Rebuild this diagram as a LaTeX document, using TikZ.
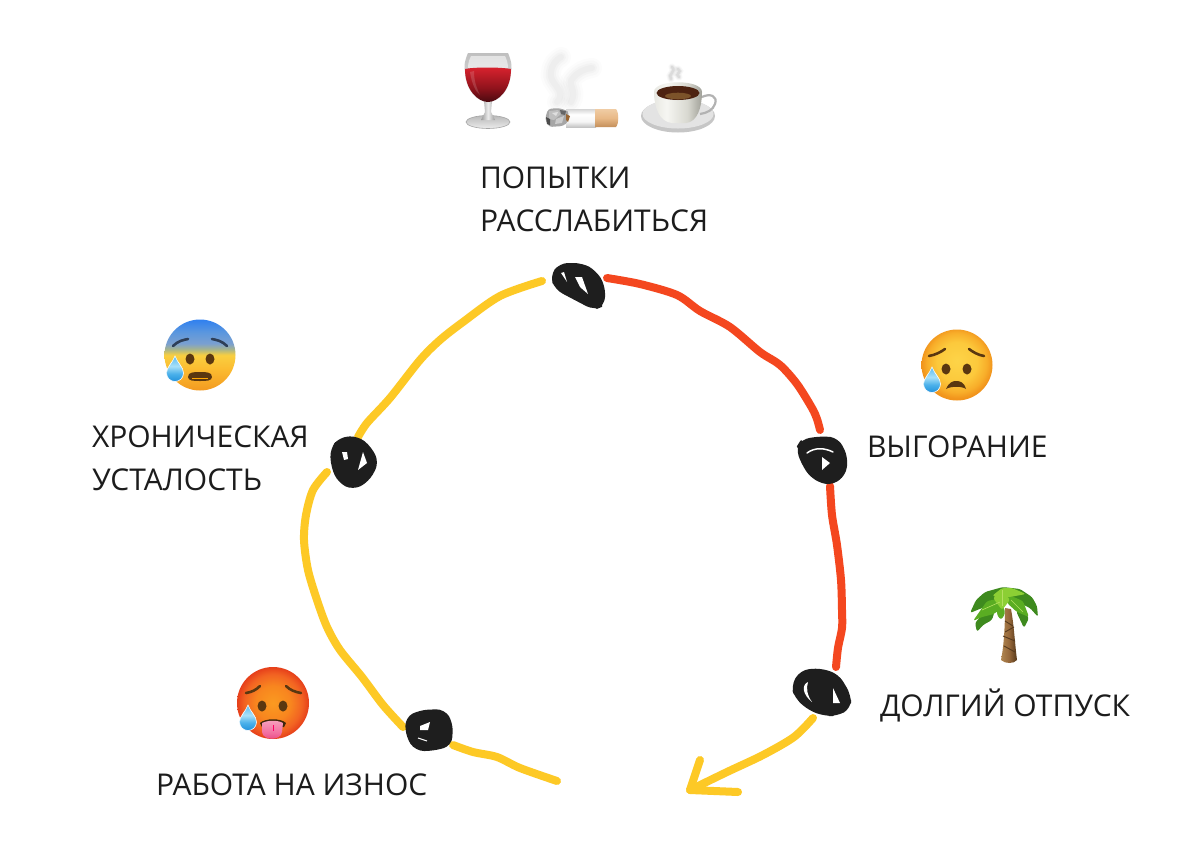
\documentclass[tikz,border=0pt]{standalone}
\usepackage{fontspec}
\setmainfont{Open Sans}
\definecolor{redline}{HTML}{F4471F}
\definecolor{yelline}{HTML}{FDC926}
\definecolor{blobc}{HTML}{1E1E1E}
\definecolor{txt}{HTML}{1C1C1C}
\definecolor{browc}{HTML}{5A3710}
\newcommand{\hx}[2]{\definecolor{#1}{HTML}{#2}}
\hx{fa}{F39A20}\hx{fb}{FBBB30}\hx{fc}{F9CF40}\hx{fd}{A8B58A}\hx{fe}{7BA0D0}\hx{ff}{5B97DE}\hx{fg}{2F80F0}
\hx{sa}{FDD448}\hx{sb}{FCC93C}\hx{sc}{F8AE2A}\hx{sd}{F1941C}
\hx{ha}{FA9A20}\hx{hb}{F8861F}\hx{hc}{F26322}\hx{hd}{E63F1A}
\hx{da}{2392DC}\hx{db}{4AB0EA}\hx{dc}{A8E0F8}\hx{dd}{5ABAF0}
\hx{ta}{E8437F}\hx{tb}{F26FA0}\hx{tc}{F7A0BE}
\hx{wa}{4A0A10}\hx{wb}{90131C}\hx{wc}{D8222E}
\hx{pa}{C4C4C4}\hx{pb}{F5F5F5}\hx{pc}{FFFFFF}\hx{pd}{D5D5D5}
\hx{va}{C48F5A}\hx{vb}{E8B987}\hx{vc}{F0CCA4}
\hx{ca}{E8E8E2}\hx{cb}{F6F6F2}\hx{cc}{D8D8D0}\hx{cd}{A0A098}
\hx{ka}{B08650}\hx{kb}{96683A}\hx{kc}{55381A}
\hx{la}{3E8A1E}\hx{lb}{5AAD22}\hx{lc}{8CCF34}\hx{ld}{B4E060}
\hx{ga}{9A9A9A}\hx{gb}{EDEDED}\hx{browb}{2E3F58}
\pgfdeclareverticalshading{fearshade}{100bp}{color(0bp)=(fa);color(25bp)=(fa);color(40bp)=(fb);color(50bp)=(fc);color(54bp)=(fd);color(58bp)=(fe);color(66bp)=(ff);color(75bp)=(fg);color(100bp)=(fg)}
\pgfdeclareradialshading{sadshade}{\pgfpoint{0bp}{3bp}}{color(0bp)=(sa);color(14bp)=(sb);color(21bp)=(sc);color(25bp)=(sd);color(50bp)=(sd)}
\pgfdeclareradialshading{hotshade}{\pgfpoint{0bp}{0bp}}{color(0bp)=(ha);color(12bp)=(hb);color(20bp)=(hc);color(25bp)=(hd);color(50bp)=(hd)}
\pgfdeclareverticalshading{dropshade}{100bp}{color(0bp)=(da);color(25bp)=(da);color(40bp)=(db);color(55bp)=(dc);color(75bp)=(dd);color(100bp)=(dd)}
\pgfdeclareverticalshading{tongueshade}{100bp}{color(0bp)=(ta);color(25bp)=(ta);color(45bp)=(tb);color(75bp)=(tc);color(100bp)=(tc)}
\pgfdeclareverticalshading{wineshade}{100bp}{color(0bp)=(wa);color(25bp)=(wa);color(45bp)=(wb);color(75bp)=(wc);color(100bp)=(wc)}
\pgfdeclareverticalshading{papershade}{100bp}{color(0bp)=(pa);color(25bp)=(pa);color(40bp)=(pb);color(60bp)=(pc);color(75bp)=(pd);color(100bp)=(pd)}
\pgfdeclareverticalshading{filtervshade}{100bp}{color(0bp)=(va);color(25bp)=(va);color(50bp)=(vb);color(75bp)=(vc);color(100bp)=(vc)}
\pgfdeclarehorizontalshading{cupshade}{100bp}{color(0bp)=(ca);color(25bp)=(ca);color(38bp)=(cb);color(60bp)=(cc);color(75bp)=(cd);color(100bp)=(cd)}
\pgfdeclarehorizontalshading{trunkshade}{100bp}{color(0bp)=(ka);color(25bp)=(ka);color(50bp)=(kb);color(75bp)=(kc);color(100bp)=(kc)}
\pgfdeclarehorizontalshading{stemshade}{100bp}{color(0bp)=(ga);color(25bp)=(ga);color(50bp)=(gb);color(75bp)=(ga);color(100bp)=(ga)}
\tikzset{
  every node/.style={inner sep=0pt,outer sep=0pt},
  lbl/.style={anchor=base west,text=txt,font=\fontsize{30}{43}\selectfont,align=left},
  redstroke/.style={draw=redline,line width=8pt,line cap=round,line join=round},
  yelstroke/.style={draw=yelline,line width=8pt,line cap=round,line join=round},
  blobfill/.style={fill=blobc,draw=blobc,line width=2pt,line join=round,rounded corners=8pt},
  hole/.style={fill=white},
  brow/.style={draw=browc,line width=2.6pt,line cap=round},
  fearbrow/.style={draw=browb,line width=2.6pt,line cap=round},
  eye/.style={fill=browc},
  frond/.style={rounded corners=2.5pt},
  rib/.style={draw=ld,line width=0.6pt},
}
\newcommand{\tdrop}[2]{\begin{scope}[shift={(#1,#2)}]
 \path[shading=dropshade,draw=white,line width=0.6pt] (0,-17) .. controls (2.5,-10) and (8.5,-6) .. (8.5,0) .. controls (8.5,5) and (4.5,8.5) .. (0,8.5) .. controls (-4.5,8.5) and (-8.5,5) .. (-8.5,0) .. controls (-8.5,-6) and (-2.5,-10) .. (0,-17) -- cycle;
\end{scope}}
\begin{document}
\begin{tikzpicture}[x=1pt,y=-1pt]
\useasboundingbox (0,0) rectangle (1200,855);
\fill[white] (0,0) rectangle (1200,855);
% labels
\node[lbl] (relax) at (480,231) {ПОПЫТКИ\\РАССЛАБИТЬСЯ};
\node[lbl] (tired) at (92,490) {ХРОНИЧЕСКАЯ\\УСТАЛОСТЬ};
\node[lbl] (burn) at (867,457) {ВЫГОРАНИЕ};
\node[lbl] (vac) at (880,716) {ДОЛГИЙ ОТПУСК};
\node[lbl] (work) at (156,795) {РАБОТА НА ИЗНОС};
% stroke ends
\coordinate (r1a) at (607,278);
\coordinate (r1b) at (820,430);
\coordinate (r2a) at (830,486);
\coordinate (r2b) at (836,667);
\coordinate (y1a) at (813,718);
\coordinate (tip) at (690,790);
\coordinate (y2a) at (557,781);
\coordinate (y2b) at (453,745);
\coordinate (y3a) at (403,727);
\coordinate (y3b) at (327,472);
\coordinate (y4a) at (358,437);
\coordinate (y4b) at (542,281);
% strokes
\draw[redstroke] plot[smooth,tension=0.5] coordinates {(r1a) (640,284) (677,295) (700,311) (730,327) (760,352) (780,365) (797,384) (812,408) (817,419) (r1b)};
\draw[redstroke] plot[smooth,tension=0.5] coordinates {(r2a) (832,515) (837,545) (841,580) (842,610) (842,628) (838,648) (r2b)};
\draw[yelstroke] plot[smooth,tension=0.5] coordinates {(y1a) (794,737) (763,755) (727,772) (tip)};
\draw[yelstroke] (700,760) -- (tip) -- (738,792);
\draw[yelstroke] plot[smooth,tension=0.5] coordinates {(y2a) (520,768) (497,757) (473,752) (y2b)};
\draw[yelstroke] plot[smooth,tension=0.5] coordinates {(y3a) (383,705) (362,677) (340,650) (327,627) (317,600) (308,570) (304,540) (306,515) (313,490) (y3b)};
\draw[yelstroke] plot[smooth,tension=0.5] coordinates {(y4a) (367,423) (390,398) (420,360) (440,340) (463,322) (500,296) (y4b)};
% blobs
\filldraw[blobfill] (551,276) -- (560,264) -- (582,264) -- (595,271) -- (604,285) -- (604,305) -- (594,309) -- (573,298) -- (556,289) -- cycle;
\fill[hole] (561,273) -- (564,272) -- (567,282) -- cycle;
\fill[hole] (575,277) -- (582,277) -- (588,294) -- (580,287) -- cycle;
\filldraw[blobfill] (331,449) -- (340,438) -- (358,437) -- (371,448) -- (378,463) -- (368,481) -- (353,489) -- (339,482) -- (332,467) -- cycle;
\fill[hole] (342,452) -- (347,452) -- (348,459) -- (344,460) -- cycle;
\fill[hole] (363,452) -- (367,463) -- (358,470) -- cycle;
\filldraw[blobfill] (797,448) -- (802,440) -- (823,437) -- (838,439) -- (847,457) -- (845,475) -- (830,485) -- (812,478) -- (802,463) -- cycle;
\draw[white,line width=1.5pt,line cap=round] (807,453) .. controls (815,447) and (825,448) .. (833,452);
\fill[hole] (822,457) -- (830,463) -- (822,470) -- cycle;
\filldraw[blobfill] (792,686) -- (801,671) -- (820,669) -- (838,675) -- (850,695) -- (850,708) -- (837,715) -- (825,715) -- (810,710) -- (796,698) -- cycle;
\fill[hole] (808,682) .. controls (801,685) and (803,695) .. (812,702) .. controls (807,695) and (806,688) .. (808,682) -- cycle;
\fill[hole] (833,688) -- (840,703) -- (833,703) -- cycle;
\filldraw[blobfill] (406,718) -- (420,711) -- (444,710) -- (452,723) -- (451,745) -- (433,750) -- (416,750) -- (407,737) -- cycle;
\fill[hole] (420,726) -- (430,722) -- (428,730) -- (420,730) -- cycle;
\draw[white,line width=1pt] (418,738) -- (427,741);
% fear face
\begin{scope}[shift={(200,355)}]
 \path[shading=fearshade] (0,0) circle[radius=35.5];
 \fill[eye] (-10,4) ellipse[x radius=4.5,y radius=5.5];
 \fill[eye] (10,4) ellipse[x radius=4.5,y radius=5.5];
 \draw[fearbrow] (-27,-9) .. controls (-22,-14) and (-17,-15) .. (-12,-16);
 \draw[fearbrow] (27,-9) .. controls (22,-14) and (17,-15) .. (12,-16);
 \fill[browc] (-12,22) .. controls (-12,17) and (-6,17) .. (0,17) .. controls (6,17) and (12,17) .. (12,22) .. controls (12,26) and (6,26) .. (0,26) .. controls (-6,26) and (-12,26) .. (-12,22) -- cycle;
 \fill[orange!70!yellow] (-8,23) -- (8,23) -- (8,24) -- (-8,24) -- cycle;
\end{scope}
\tdrop{175}{373}
% sad face
\begin{scope}[shift={(957,365)}]
 \path[shading=sadshade] (0,0) circle[radius=35.5];
 \fill[eye] (-11,4) ellipse[x radius=4.5,y radius=5.5];
 \fill[eye] (10,4) ellipse[x radius=4.5,y radius=5.5];
 \draw[brow] (-28,-9) .. controls (-22,-10) and (-16,-13) .. (-12,-16);
 \draw[brow] (27,-9) .. controls (21,-10) and (16,-13) .. (12,-16);
 \fill[browc] (-11,24) .. controls (-8,17) and (-4,16) .. (-1,16) .. controls (3,16) and (7,17) .. (9,24) .. controls (5,21) and (-6,21) .. (-11,24) -- cycle;
\end{scope}
\tdrop{932}{384}
% hot face
\begin{scope}[shift={(273,703)}]
 \path[shading=hotshade] (0,0) circle[radius=36];
 \fill[eye] (-11,3) ellipse[x radius=4.5,y radius=5.5];
 \fill[eye] (10,3) ellipse[x radius=4.5,y radius=5.5];
 \draw[brow] (-27,-10) .. controls (-21,-11) and (-17,-13) .. (-13,-17);
 \draw[brow] (28,-10) .. controls (22,-11) and (17,-13) .. (13,-17);
 \fill[browc!70!black] (-13,20) .. controls (-8,15) and (8,15) .. (13,20) -- (11,24) -- (-11,24) -- cycle;
 \path[shading=tongueshade] (-11,20) .. controls (-5,17) and (5,17) .. (10,20) -- (9,29) .. controls (8,38) and (-10,38) .. (-11,29) -- cycle;
 \draw[red!60!magenta,line width=0.7pt] (0,22) -- (0,28);
\end{scope}
\tdrop{248}{722}
% wine glass
\path[top color=gray!55,bottom color=gray!15,draw=gray!70,line width=0.6pt] (488,122) ellipse[x radius=22,y radius=6.5];
\path[shading=stemshade] (484,101) -- (492,101) -- (491,112) -- (495,120) -- (481,120) -- (485,112) -- cycle;
\path[top color=gray!50,bottom color=gray!20] (468,53) .. controls (464,62) and (464,68) .. (465,72) .. controls (466,92) and (478,102) .. (488,102) .. controls (498,102) and (510,92) .. (511,72) .. controls (512,68) and (512,62) .. (508,53) -- cycle;
\fill[white,opacity=0.55] (471,56) .. controls (468,62) and (468,66) .. (468,68) -- (508,68) .. controls (508,64) and (507,60) .. (505,56) -- cycle;
\path[shading=wineshade] (465,69) .. controls (474,67) and (500,67) .. (511,69) .. controls (511,90) and (498,102) .. (488,102) .. controls (478,102) and (465,90) .. (465,69) -- cycle;
\fill[white,opacity=0.15] (470,72) .. controls (472,85) and (476,92) .. (480,95) .. controls (475,85) and (474,78) .. (474,71) -- cycle;
% cigarette
\foreach \w/\o in {20/0.025,15/0.03,10/0.035,6/0.04}{
 \draw[draw=gray,line width=\w pt,line cap=round,opacity=\o] (557,102) .. controls (568,90) and (548,84) .. (551,72) .. controls (552,64) and (556,60) .. (561,57);
 \draw[draw=gray,line width=\w pt,line cap=round,opacity=\o] (571,102) .. controls (578,90) and (566,84) .. (573,78) .. controls (578,72) and (584,69) .. (592,68);
}
\path[shading=papershade] (566,109) rectangle (596,127);
\path[shading=filtervshade] (595,109) -- (616,109) .. controls (619,112) and (619,124) .. (616,127) -- (595,127) -- cycle;
\fill[gray!70,rounded corners=3pt] (548,109) -- (558,108) -- (566,110) -- (569,113) -- (568,122) -- (563,126) -- (549,127) -- (545,119) -- cycle;
\fill[gray!50] (549,111) -- (558,110) -- (561,114) -- (554,120) -- (549,119) -- cycle;
\fill[gray!25] (552,113) -- (558,112) -- (556,116) -- cycle;
\fill[gray!40] (556,119) -- (564,116) -- (562,123) -- (555,124) -- cycle;
\fill[black!70] (546,117) -- (550,119) -- (550,125) -- (547,124) -- cycle;
\fill[black!60] (560,110) -- (566,111) -- (565,115) -- (561,114) -- cycle;
\fill[brown!80!black] (566,114) -- (570,116) -- (568,122) -- (566,120) -- cycle;
% coffee
\fill[gray!45] (678,116) ellipse[x radius=37,y radius=16.5];
\fill[gray!22] (678,114) ellipse[x radius=35.5,y radius=14.5];
\draw[gray!60,line width=2.2pt] (702,97) .. controls (710,93) and (718,96) .. (715,104) .. controls (713,110) and (707,113) .. (700,114);
\path[shading=cupshade] (654,92) .. controls (654,108) and (660,122) .. (672,123) -- (686,123) .. controls (697,122) and (702,108) .. (702,92) .. controls (702,79) and (654,79) .. (654,92) -- cycle;
\fill[black!70!brown!90!red] (678,93) ellipse[x radius=21.5,y radius=7];
\fill[brown!65!black] (678,96) ellipse[x radius=13,y radius=3.3];
\foreach \w/\o in {7/0.06,4.5/0.1,2.5/0.14}{
 \draw[draw=gray,line width=\w pt,line cap=round,opacity=\o] (671,79) .. controls (667,74) and (677,72) .. (672,67);
 \draw[draw=gray,line width=\w pt,line cap=round,opacity=\o] (679,77) .. controls (674,74) and (683,72) .. (678,69);
}
% palm
\path[shading=trunkshade] (1005,608) -- (1011,609) .. controls (1014,625) and (1015,645) .. (1017,660) .. controls (1014,664) and (1005,664) .. (1001,660) .. controls (1004,645) and (1005,625) .. (1005,608) -- cycle;
\draw[black!55!brown,line width=0.9pt] (1005,621) -- (1013,626) (1005,632) -- (1014,627) (1004,646) -- (1015,652) (1003,636) -- (1015,641);
\fill[frond,la] (970,613) -- (976,600) -- (985,592) -- (1003,587) -- (1020,589) -- (1032,597) -- (1037,606) -- (1038,617) -- (1030,608) -- (1018,602) -- (1000,603) -- (982,608) -- cycle;
\fill[frond,la] (995,610) -- (983,614) -- (975,623) -- (977,632) -- (983,625) -- (992,620) -- cycle;
\fill[frond,lb] (1003,598) -- (987,601) -- (973,621) -- (982,617) -- (994,614) -- (1004,606) -- cycle;
\fill[frond,lb] (997,609) -- (997,615) -- (1001,620) -- (1005,614) -- (1004,607) -- cycle;
\fill[frond,la] (1016,611) -- (1024,628) -- (1029,618) -- (1023,610) -- cycle;
\fill[frond,lb] (1009,595) -- (1023,601) -- (1029,617) -- (1017,612) -- (1007,603) -- cycle;
\fill[frond,lc] (1002,588) -- (1012,588) -- (1026,594) -- (1010,597) -- (992,596) -- cycle;
\fill[frond,lc] (1002,588) -- (993,598) -- (1002,610) -- (1010,600) -- cycle;
\draw[rib] (1002,590) -- (1002,606);
\draw[rib] (1000,602) -- (982,610);
\draw[rib] (1011,600) -- (1023,612);
\end{tikzpicture}
\end{document}
